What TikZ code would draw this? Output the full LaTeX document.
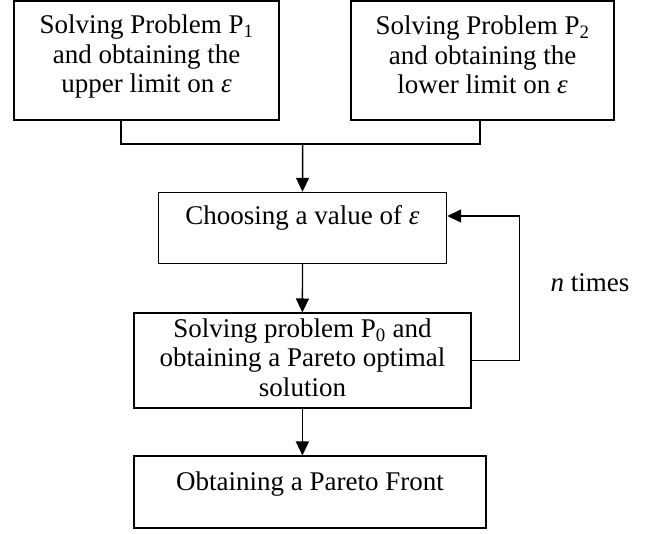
\documentclass[tikz,border=0pt]{standalone}
\usepackage{fontspec}
\setmainfont{Liberation Serif}
\usepackage{tikz}
\usetikzlibrary{arrows.meta,positioning}
\newcommand{\boxlw}{1.4pt}
\newcommand{\eps}{\textit{ε}}
\tikzset{
  stepbox/.style={draw, line width=\boxlw, inner sep=0pt},
  boxtext/.style={inner sep=0pt, anchor=north, align=center,
    font=\fontsize{27}{29.5}\selectfont},
  link/.style={line width=\boxlw},
  arr/.style={line width=\boxlw, -{Triangle[length=14pt,width=13pt]}}
}

\begin{document}
\begin{tikzpicture}[x=1pt,y=1pt]
                %\draw[help lines] (0,0) grid (649,-534);
                \useasboundingbox (0,0) rectangle (649,-534);
                % the boxes
                \node[stepbox, minimum width=265pt, minimum height=119pt] (b1) at (146.5,-60.5) {};
                \node[stepbox, minimum width=263pt, minimum height=119pt] (b2) at (482.5,-60.5) {};
                \node[stepbox, minimum width=288pt, minimum height=71pt] (b3) at (302.5,-228) {};
                \node[stepbox, minimum width=337pt, minimum height=95pt] (b4) at (302.4,-360.7) {};
                \node[stepbox, minimum width=352pt, minimum height=72pt] (b5) at (309.9,-492.2) {};
                % the texts in them
                \node[boxtext] (t1) at (146.5,-14.8) {Solving Problem P\textsubscript{1}\\and obtaining the\\upper limit on \eps};
                \node[boxtext] (t2) at (482.5,-15.6) {Solving Problem P\textsubscript{2}\\and obtaining the\\lower limit on \eps};
                \node[boxtext] (t3) at (302.5,-205) {Choosing a value of \eps};
                \node[boxtext] (t4) at (302.5,-318.3) {Solving problem P\textsubscript{0} and\\obtaining a Pareto optimal\\solution};
                \node[boxtext] (t5) at (309.9,-471.6) {Obtaining a Pareto Front};
                \node[boxtext, anchor=base] (ntimes) at (590,-291.7) {\textit{n} times};
                % connectors
                \coordinate (join) at (302.7,-144);
                \coordinate (loop) at (519.3,-300);
                \draw[link] ([xshift=-25.5pt]b1.south) |- (join) -| ([xshift=-2.5pt]b2.south);
                \draw[arr] (join) -- (b3.north);
                \draw[arr] (b3.south) -- (b4.north);
                \draw[arr] (b4.south) -- (b4.south |- b5.north);
                \draw[arr] (b4.east) -| (loop) |- ([yshift=12pt]b3.east);
        \end{tikzpicture}
\end{document}
